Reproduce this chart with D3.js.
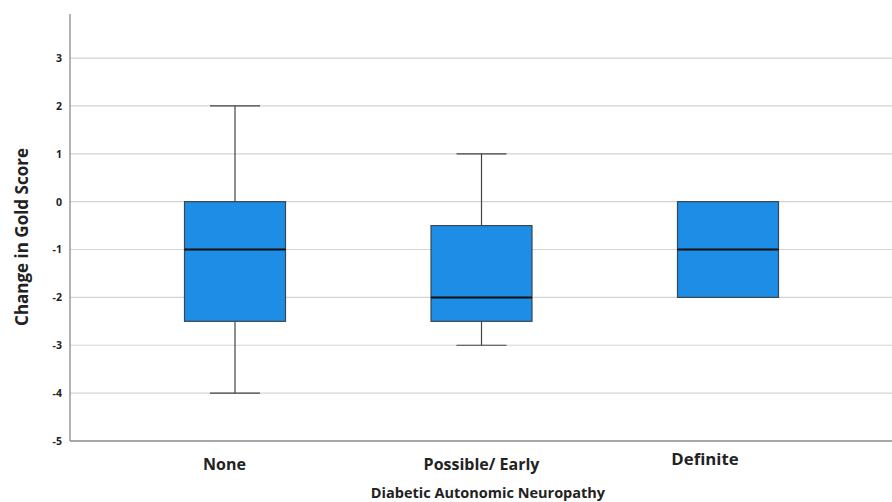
<!DOCTYPE html>
<html>
<head>
<meta charset="utf-8">
<script src="https://cdn.jsdelivr.net/npm/d3@7"></script>
<style>
  body { margin: 0; background: #fff; }
  svg { display: block; }
  text { font-family: "Open Sans", sans-serif; font-weight: bold; fill: #222; }
</style>
</head>
<body>
<div id="chart"></div>
<script>
// categorias e estatísticas de cada caixa
const categorias = ["None", "Possible/ Early", "Definite"];
const minimos = [-4, -3, -2];
const q1s = [-2.5, -2.5, -2];
const medianas = [-1, -2, -1];
const q3s = [0, -0.5, 0];
const maximos = [2, 1, 0];
const ticksY = [-5, -4, -3, -2, -1, 0, 1, 2, 3];

const largura = 892, altura = 502;
const esq = 70, dir = 892, topo = 14, base = 441;

const dados = categorias.map((c, i) => ({
  cat: c, min: minimos[i], q1: q1s[i], med: medianas[i], q3: q3s[i], max: maximos[i]
}));

const svg = d3.select("#chart").append("svg")
    .attr("width", largura)
    .attr("height", altura);

const y = d3.scaleLinear().domain([-5, 3.92]).range([base, topo]);
const x = d3.scalePoint().domain(categorias).range([235, 728]);
const larguraCaixa = 101;

// linhas de grade
svg.append("g")
  .selectAll("line")
  .data(ticksY.filter(t => t > -5))
  .join("line")
    .attr("x1", esq).attr("x2", dir)
    .attr("y1", d => y(d)).attr("y2", d => y(d))
    .attr("stroke", "#d4d4d4")
    .attr("stroke-width", 1.2);

// eixo y
const eixoY = svg.append("g")
    .attr("transform", `translate(${esq},0)`)
    .call(d3.axisLeft(y).tickValues(ticksY).tickSize(0).tickPadding(8).tickFormat(d => String(d)));
eixoY.select(".domain").remove();
eixoY.selectAll("text")
    .style("font-size", "10.5px")
    .style("font-family", "'Open Sans', sans-serif")
    .attr("fill", "#333");

svg.append("line")
    .attr("x1", esq).attr("x2", esq)
    .attr("y1", topo).attr("y2", base)
    .attr("stroke", "#8a8a8a").attr("stroke-width", 1.3);
svg.append("line")
    .attr("x1", esq).attr("x2", dir)
    .attr("y1", base).attr("y2", base)
    .attr("stroke", "#8a8a8a").attr("stroke-width", 1.3);

// caixas
const caixas = svg.append("g").selectAll("g")
  .data(dados)
  .join("g");

caixas.filter(d => d.max > d.q3).append("line")
    .attr("x1", d => x(d.cat)).attr("x2", d => x(d.cat))
    .attr("y1", d => y(d.max)).attr("y2", d => y(d.q3))
    .attr("stroke", "#444").attr("stroke-width", 1.2);
caixas.filter(d => d.min < d.q1).append("line")
    .attr("x1", d => x(d.cat)).attr("x2", d => x(d.cat))
    .attr("y1", d => y(d.q1)).attr("y2", d => y(d.min))
    .attr("stroke", "#444").attr("stroke-width", 1.2);
caixas.filter(d => d.max > d.q3).append("line")
    .attr("x1", d => x(d.cat) - 25).attr("x2", d => x(d.cat) + 25)
    .attr("y1", d => y(d.max)).attr("y2", d => y(d.max))
    .attr("stroke", "#444").attr("stroke-width", 1.2);
caixas.filter(d => d.min < d.q1).append("line")
    .attr("x1", d => x(d.cat) - 25).attr("x2", d => x(d.cat) + 25)
    .attr("y1", d => y(d.min)).attr("y2", d => y(d.min))
    .attr("stroke", "#444").attr("stroke-width", 1.2);

caixas.append("rect")
    .attr("x", d => x(d.cat) - larguraCaixa / 2)
    .attr("width", larguraCaixa)
    .attr("y", d => y(d.q3))
    .attr("height", d => y(d.q1) - y(d.q3))
    .attr("fill", "#1d8de6")
    .attr("stroke", "#3a4650")
    .attr("stroke-width", 1.2);

caixas.append("line")
    .attr("x1", d => x(d.cat) - larguraCaixa / 2).attr("x2", d => x(d.cat) + larguraCaixa / 2)
    .attr("y1", d => y(d.med)).attr("y2", d => y(d.med))
    .attr("stroke", "#111").attr("stroke-width", 2);

// rótulos do eixo x (posições deslocadas como no original)
const ajusteX = [-10.5, 0, -23];
const linhaBase = [470, 470, 465];
svg.append("g").selectAll("text")
  .data(categorias)
  .join("text")
    .attr("x", (d, i) => x(d) + ajusteX[i])
    .attr("y", (d, i) => linhaBase[i])
    .attr("text-anchor", "middle")
    .style("font-size", (d, i) => i === 2 ? "16.8px" : "16px")
    .text(d => d);

svg.append("text")
    .attr("x", 488).attr("y", 498)
    .attr("text-anchor", "middle")
    .style("font-size", "14.5px")
    .text("Diabetic Autonomic Neuropathy");

svg.append("text")
    .attr("transform", `translate(28,${237}) rotate(-90)`)
    .attr("text-anchor", "middle")
    .style("font-size", "17px")
    .text("Change in Gold Score");
</script>
</body>
</html>
